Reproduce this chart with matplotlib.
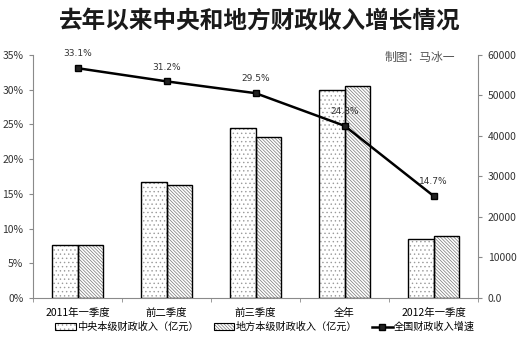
import matplotlib
matplotlib.use("Agg")
import matplotlib.pyplot as plt
from matplotlib.patches import Patch
from matplotlib.lines import Line2D
from matplotlib.legend_handler import HandlerTuple
import numpy as np

plt.rcParams['font.family'] = ['Noto Sans CJK SC', 'DejaVu Sans']
plt.rcParams['hatch.linewidth'] = 0.5

periods = ["2011年一季度", "前二季度", "前三季度", "全年", "2012年一季度"]
central = [13100, 28700, 42000, 51306, 14500]   # 中央本级财政收入（亿元）
local = [13100, 27850, 39750, 52434, 15300]     # 地方本级财政收入（亿元）
growth = [33.1, 31.2, 29.5, 24.8, 14.7]         # 全国财政收入增速（%）

left_ticks = [0, 5, 10, 15, 20, 25, 30, 35]
right_ticks = [0, 10000, 20000, 30000, 40000, 50000, 60000]
right_labels = ["0.0", "10000", "20000", "30000", "40000", "50000", "60000"]

fig = plt.figure(figsize=(5.2, 3.48), dpi=100)
ax = fig.add_axes([0.0635, 0.1437, 0.8558, 0.6983])
ax2 = ax.twinx()

x = np.arange(len(periods))
w = 0.285
grey = "#8a8a8a"
dots = "...."
lines = "\\" * 10

# bars: hatch drawn first in grey, then the black outline on top
ax.bar(x - w / 2, central, w, facecolor="white", edgecolor="#9a9a9a", hatch=dots, linewidth=0, zorder=2)
ax.bar(x + w / 2, local, w, facecolor="white", edgecolor="#777777", hatch=lines, linewidth=0, zorder=2)
ax.bar(x - w / 2, central, w, facecolor="none", edgecolor="black", linewidth=1.0, zorder=3)
ax.bar(x + w / 2, local, w, facecolor="none", edgecolor="black", linewidth=1.0, zorder=3)

ax.set_xlim(-0.5, len(periods) - 0.5)
ax.set_ylim(0, 60000)
ax.set_yticks(right_ticks)
ax.set_yticklabels(right_labels)
ax.yaxis.tick_right()
ax.set_xticks(x)
ax.set_xticklabels(periods)
ax.set_xticks(np.arange(len(periods) + 1) - 0.5, minor=True)
ax.tick_params(axis="x", which="major", length=0, pad=7, labelsize=7.5)
ax.tick_params(axis="x", which="minor", length=3, color=grey)
ax.tick_params(axis="y", length=3, color=grey, labelsize=7.5, pad=4, labelcolor="#333333")
for s in ["top", "left"]:
    ax.spines[s].set_visible(False)
ax.spines["bottom"].set_color(grey)
ax.spines["right"].set_color(grey)

# growth line on the left percent axis
ax2.plot(x, growth, color="black", linewidth=1.8, marker="s", markersize=5,
         markerfacecolor="#222222", markeredgecolor="black", zorder=5)
for xi, g in zip(x, growth):
    ax2.annotate(f"{g}%", (xi, g), xytext=(0, 7), textcoords="offset points",
                 ha="center", va="bottom", fontsize=6.5, color="#333333",
                 family="DejaVu Sans")
ax2.set_ylim(0, 35)
ax2.set_yticks(left_ticks)
ax2.set_yticklabels([f"{t}%" for t in left_ticks])
ax2.yaxis.tick_left()
ax2.tick_params(axis="y", length=3, color=grey, labelsize=7.5, pad=4, labelcolor="#333333")
for s in ["top", "right", "bottom"]:
    ax2.spines[s].set_visible(False)
ax2.spines["left"].set_visible(True)
ax2.spines["left"].set_color(grey)

fig.text(0.5, 0.94, "去年以来中央和地方财政收入增长情况", ha="center", va="center",
         fontsize=17, fontweight="bold", color="#1a1a1a")
fig.text(0.875, 0.835, "制图：马冰一", ha="right", va="center", fontsize=8.5, color="#555555")

h_central = (Patch(facecolor="white", edgecolor="#9a9a9a", hatch=dots, linewidth=0),
             Patch(facecolor="none", edgecolor="black", linewidth=0.8))
h_local = (Patch(facecolor="white", edgecolor="#777777", hatch=lines, linewidth=0),
           Patch(facecolor="none", edgecolor="black", linewidth=0.8))
h_growth = Line2D([], [], color="black", linewidth=1.8, marker="s", markersize=4,
                  markerfacecolor="#222222")
fig.legend([h_central, h_local, h_growth],
           ["中央本级财政收入（亿元）", "地方本级财政收入（亿元）", "全国财政收入增速"],
           handler_map={tuple: HandlerTuple(ndivide=1, pad=0)},
           loc="center", bbox_to_anchor=(0.51, 0.06), ncol=3, frameon=False,
           fontsize=7.3, handlelength=2.0, handleheight=0.6, handletextpad=0.15,
           columnspacing=1.5)

fig.savefig("out.png", dpi=100)
